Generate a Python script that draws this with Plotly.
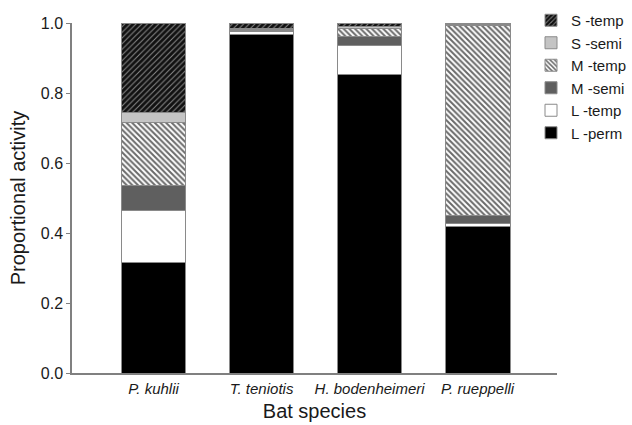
import plotly.graph_objects as go

species = ["P. kuhlii", "T. teniotis", "H. bodenheimeri", "P. rueppelli"]
l_perm = [0.316, 0.966, 0.852, 0.419]
l_temp = [0.149, 0.010, 0.083, 0.008]
m_semi = [0.071, 0.003, 0.027, 0.022]
m_temp = [0.180, 0.002, 0.021, 0.544]
s_semi = [0.027, 0.002, 0.006, 0.003]
s_temp = [0.257, 0.017, 0.011, 0.004]

series = [
    ("L -perm", l_perm, dict(color="black")),
    ("L -temp", l_temp, dict(color="white")),
    ("M -semi", m_semi, dict(color="#5f5f5f")),
    ("M -temp", m_temp, dict(color="white", pattern=dict(shape="\\", fgcolor="#6a6a6a", bgcolor="white", size=4, solidity=0.5, fillmode="replace"))),
    ("S -semi", s_semi, dict(color="#c4c4c4")),
    ("S -temp", s_temp, dict(color="#222", pattern=dict(shape="/", fgcolor="#111111", bgcolor="#8a8a8a", size=4, solidity=0.75, fillmode="replace"))),
]

fig = go.Figure()
n = len(series)
for i, (name, vals, mk) in enumerate(series):
    marker = dict(mk)
    marker["line"] = dict(color="#8a8a8a", width=1)
    fig.add_trace(go.Bar(x=list(range(len(species))), y=vals, name=name, marker=marker,
                         width=0.6, legendgroup=name, legendrank=n - i))

font = "Liberation Sans, Arial, sans-serif"
fig.update_layout(
    barmode="stack",
    width=632, height=425,
    margin=dict(l=72, r=75, t=23, b=52, autoexpand=False),
    paper_bgcolor="white", plot_bgcolor="white",
    font=dict(family=font, color="#1a1a1a"),
    legend=dict(traceorder="grouped", tracegroupgap=0,
                x=531 / 632, y=1 - 4 / 425, xref="container", yref="container", xanchor="left", yanchor="top",
                font=dict(size=15, family=font, color="#1a1a1a"),
                bgcolor="rgba(0,0,0,0)", borderwidth=0),
    xaxis=dict(range=[-0.755, 3.735], tickmode="array", tickvals=list(range(len(species))),
               ticktext=["<i>%s</i>" % s for s in species], showline=True, linecolor="#808080",
               linewidth=1.5, ticks="", ticklabelstandoff=1, tickfont=dict(size=15, family=font, color="#1a1a1a"),
               title=dict(text="Bat species", font=dict(size=20, family=font, color="#1a1a1a"), standoff=8),
               showgrid=False, zeroline=False),
    yaxis=dict(range=[0, 1], tickvals=[0, 0.2, 0.4, 0.6, 0.8, 1.0], tickformat=".1f",
               showline=True, linecolor="#808080", linewidth=1.5, ticks="outside", ticklen=4,
               tickcolor="#808080", tickfont=dict(size=16, family=font, color="#1a1a1a"),
               title=dict(text="Proportional activity", font=dict(size=20, family=font, color="#1a1a1a"), standoff=10),
               showgrid=False, zeroline=False),
)
fig.write_html("out.html")
